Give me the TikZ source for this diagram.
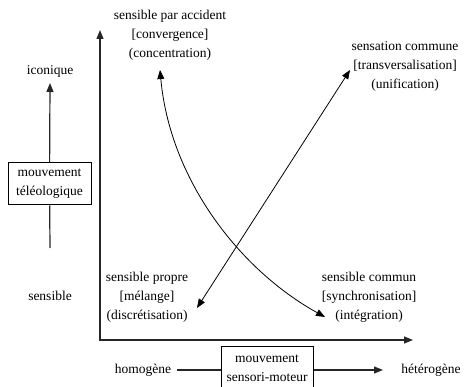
\documentclass[tikz,border=0pt]{standalone}
\usepackage{fontspec}
\setmainfont{Liberation Serif}
\usepackage{tikz}
\usetikzlibrary{positioning, arrows.meta}

\begin{document}
\begin{tikzpicture}[
		% GLOBAL CFG
		x=1pt, y=-1pt,
		font=\fontsize{13.5}{19}\selectfont,
		>={Triangle[length=9pt,width=7pt]},
		% Styles
		txt/.style={% For the plain labels
			align=center,
			inner sep=0pt,
		},
		box/.style={% For the two movements
			rectangle,
			draw,
			line width=1pt,
			align=center,
			minimum width=83pt,
			minimum height=42pt,
			inner sep=1pt,
		},
		axis/.style={% Arrows of the frame
			line width=1.2pt,
			black!85,
		},
		ArrowC1/.style={% Thin arrows inside the frame
			line width=0.8pt,
		},
		]
		\useasboundingbox (0,0) rectangle (466,387);
		
		% Draw the frame
		\coordinate (origin) at (100,340);
		\coordinate (ytip) at (100,30);
		\coordinate (xtip) at (413,340);
		\draw [axis, <->] (ytip) -- (origin) -- (xtip);
		
		% Corners of the frame
		\node [txt] (accident) at (170,35) {sensible par accident\\{[convergence]}\\(concentration)};
		\node [txt] (commune) at (405,66) {sensation commune\\{[transversalisation]}\\(unification)};
		\node [txt] (propre) at (147,297) {sensible propre\\{[mélange]}\\(discrétisation)};
		\node [txt] (commun) at (369,297) {sensible commun\\{[synchronisation]}\\(intégration)};
		
		% Left side
		\node [txt] (iconique) at (50,71) {iconique};
		\node [txt] (sensible) at (50,296) {sensible};
		\node [box] (teleo) at (49.5,184) {mouvement\\téléologique};
		\coordinate (teleoend) at (50,248);
		\draw [axis, ->] (teleo) -- (50,83);
		\draw [axis] (teleo) -- (teleoend);
		
		% Bottom side
		\node [txt] (homogene) at (143,370) {homogène};
		\node [txt] (heterogene) at (431,370) {hétérogène};
		\node [box, minimum width=92pt] (sensori) at (267,368) {mouvement\\sensori-moteur};
		\coordinate (hettip) at (383,370);
		\draw [axis, shorten <=6pt] (homogene) -- (sensori.west |- homogene);
		\draw [axis, ->] (sensori.east |- hettip) -- (hettip);
		
		% Inside the frame
		\coordinate (c1) at (160,70);
		\coordinate (c2) at (325,317);
		\coordinate (d1) at (197,308);
		\coordinate (d2) at (350,70);
		\draw [ArrowC1, <->] (c1) .. controls (170,180) and (240,270) .. (c2);
		\draw [ArrowC1, <->] (d1) -- (d2);
		
	\end{tikzpicture}
\end{document}
